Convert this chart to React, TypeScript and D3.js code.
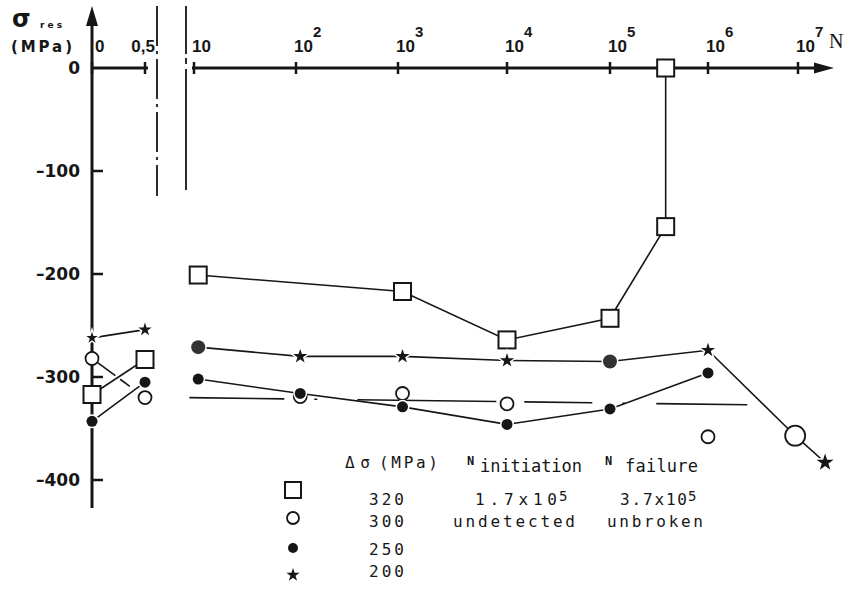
import React from "react";
import * as d3 from "d3";

// axis ticks
const linTicks = [0, 0.5];
const linTickLabels = ["0", "0,5"];
const logExps = [1, 2, 3, 4, 5, 6, 7];
const yTicks = [0, -100, -200, -300, -400];

// Δσ = 320 MPa (open squares)
const sq320Early = [[0, -317], [0.5, -283]];
const sq320 = [[11, -201], [1100, -217], [1e4, -264], [1e5, -243], [3.7e5, -154], [3.7e5, 0]];

// Δσ = 300 MPa (open circles)
const ci300Early = [[0, -282], [0.5, -320]];
const ci300 = [[110, -319], [1100, -316], [1e4, -326], [1e6, -358]];
const ci300Trend = [[9, -320], [2.8e6, -327]];

// Δσ = 250 MPa (filled circles)
const dot250Early = [[0, -343], [0.5, -305]];
const dot250 = [[11, -302], [110, -316], [1100, -329], [1e4, -346], [1e5, -331], [1e6, -296]];

// Δσ = 200 MPa (stars)
const star200Early = [[0, -262], [0.5, -254]];
const star200 = [[11, -271], [110, -280], [1100, -280], [1e4, -284], [1e5, -285], [1e6, -274], [9.3e6, -357], [2e7, -383]];
const star200Marks = ["ball", "star", "star", "star", "ball", "star", "ring", "bigstar"];

const legendRows = [
  { ds: "320", init: "1.7x10", initExp: "5", fail: "3.7x10", failExp: "5", mark: "square" },
  { ds: "300", init: "undetected", initExp: "", fail: "unbroken", failExp: "", mark: "circle" },
  { ds: "250", init: "", initExp: "", fail: "", failExp: "", mark: "dot" },
  { ds: "200", init: "", initExp: "", fail: "", failExp: "", mark: "star" },
];

const INK = "#161616";
const MONO = "'DejaVu Sans Mono', monospace";

const y = d3.scaleLinear().domain([0, -400]).range([68, 480]);
const xLin = d3.scaleLinear().domain([0, 0.5]).range([92, 145]);
// hand-drawn decades are not evenly spaced
const xLog = d3.scaleLinear().domain(logExps).range([194, 296, 398, 507, 610, 708, 798]);
const xN = (n: number) => xLog(Math.log10(n));

const lineLin = d3.line<number[]>().x((d) => xLin(d[0])).y((d) => y(d[1]));
const lineLog = d3.line<number[]>().x((d) => xN(d[0])).y((d) => y(d[1]));

const starPath = (r: number) => d3.symbol(d3.symbolStar, (r * r) / 0.8908130915)()!;

function Marker({ kind, cx, cy, r }: { kind: string; cx: number; cy: number; r?: number }) {
  if (kind === "square") {
    const h = r ?? 8.5;
    return <rect x={cx - h} y={cy - h} width={h * 2} height={h * 2} fill="#fff" stroke={INK} strokeWidth={2} />;
  }
  if (kind === "circle" || kind === "ring") {
    return <circle cx={cx} cy={cy} r={r ?? (kind === "ring" ? 10 : 6.5)} fill="#fff" stroke={INK} strokeWidth={1.8} />;
  }
  if (kind === "dot" || kind === "ball") {
    return (
      <circle cx={cx} cy={cy} r={r ?? (kind === "ball" ? 7 : 5.5)} fill={kind === "ball" ? "#333" : INK}
        stroke="#fff" strokeWidth={3} style={{ paintOrder: "stroke" }} />
    );
  }
  const rr = r ?? (kind === "bigstar" ? 9 : 7.5);
  return (
    <path d={starPath(rr)} transform={`translate(${cx},${cy})`} fill={INK}
      stroke="#fff" strokeWidth={3} style={{ paintOrder: "stroke" }} />
  );
}

export default function App() {
  const axisW = 3;
  const rowBase = [505, 527, 555, 577];
  const markDy = [-15, -9, -7, -2];
  return (
    <svg width={851} height={589} style={{ position: "absolute", left: 0, top: 0, background: "#fff" }}>
      {/* y axis */}
      <line x1={92} x2={92} y1={20} y2={508} stroke={INK} strokeWidth={axisW} />
      <path d="M92,6 L86,26 L98,26 Z" fill={INK} />
      {yTicks.slice(1).map((v) => (
        <line key={v} x1={91} x2={103} y1={y(v)} y2={y(v)} stroke={INK} strokeWidth={2.5} />
      ))}
      {yTicks.map((v) => (
        <text key={v} x={80} y={y(v) + 6} textAnchor="end" fontFamily="'DejaVu Sans', sans-serif"
          fontWeight="bold" fontSize={17} fill={INK}>
          {v === 0 ? "0" : `–${Math.abs(v)}`}
        </text>
      ))}

      {/* y label */}
      <text x={12} y={27} fontFamily="'DejaVu Sans', sans-serif" fontWeight="bold" fontSize={24} fill={INK}>σ</text>
      <text x={40} y={28} fontFamily="'DejaVu Sans', sans-serif" fontWeight="bold" fontSize={9}
        textLength={22} lengthAdjust="spacing" fill={INK}>res</text>
      <text x={11} y={52} fontFamily="'DejaVu Sans', sans-serif" fontWeight="bold" fontSize={15}
        textLength={61} lengthAdjust="spacing" fill={INK}>(MPa)</text>

      {/* x axis, linear part */}
      <line x1={92} x2={xLin(0.5) + 3} y1={y(0)} y2={y(0)} stroke={INK} strokeWidth={axisW} />
      {linTicks.map((t, i) => (
        <g key={t}>
          <line x1={xLin(t)} x2={xLin(t)} y1={y(0) - 6} y2={y(0) + 6} stroke={INK} strokeWidth={2.5} />
          <text x={i === 0 ? xLin(t) + 3 : xLin(t) + 10} y={52} textAnchor={i === 0 ? "start" : "end"}
            fontFamily="'Liberation Sans', sans-serif" fontWeight="bold" fontSize={17} fill={INK}>
            {linTickLabels[i]}
          </text>
        </g>
      ))}

      {/* axis break */}
      <line x1={157} x2={157} y1={6} y2={196} stroke={INK} strokeWidth={1.8} strokeDasharray="40 5 3 5" />
      <line x1={186} x2={186} y1={6} y2={190} stroke={INK} strokeWidth={1.8} strokeDasharray="48 4 6 5 200" />

      {/* x axis, log part */}
      <line x1={192} x2={820} y1={y(0)} y2={y(0)} stroke={INK} strokeWidth={axisW} />
      <path d={`M834,${y(0)} L814,${y(0) - 5.5} L814,${y(0) + 5.5} Z`} fill={INK} />
      {logExps.map((e) => (
        <g key={e}>
          <line x1={xLog(e)} x2={xLog(e)} y1={y(0) - 6} y2={y(0) + 6} stroke={INK} strokeWidth={2.5} />
          <text x={xLog(e) - 2} y={52} fontFamily="'Liberation Sans', sans-serif" fontWeight="bold"
            fontSize={17} fill={INK}>10</text>
          {e > 1 && (
            <text x={xLog(e) + 17} y={37} fontFamily="'Liberation Sans', sans-serif" fontWeight="bold"
              fontSize={15} fill={INK}>{e}</text>
          )}
        </g>
      ))}
      <text x={829} y={48} fontFamily="'Liberation Serif', serif" fontSize={20} fill={INK}>N</text>

      {/* series lines */}
      <g fill="none" stroke={INK} strokeWidth={1.6}>
        <path d={lineLin(sq320Early)!} />
        <path d={lineLog(sq320)!} />
        <path d={lineLin(dot250Early)!} />
        <path d={lineLog(dot250)!} />
        <path d={lineLin(star200Early)!} />
        <path d={lineLog(star200)!} />
        <path d={lineLin(ci300Early)!} strokeDasharray="0 7 22 6 12 40" />
        <path d={lineLog(ci300Trend)!} strokeDasharray="95 30 3 40 139 28 68 30 3 31 91" />
      </g>

      {/* markers */}
      {sq320Early.map((d, i) => <Marker key={"sqe" + i} kind="square" cx={xLin(d[0])} cy={y(d[1])} />)}
      {sq320.map((d, i) => <Marker key={"sq" + i} kind="square" cx={xN(d[0])} cy={y(d[1])} />)}
      {ci300Early.map((d, i) => <Marker key={"cie" + i} kind="circle" cx={xLin(d[0])} cy={y(d[1])} />)}
      {ci300.map((d, i) => <Marker key={"ci" + i} kind="circle" cx={xN(d[0])} cy={y(d[1])} />)}
      {dot250Early.map((d, i) => <Marker key={"dte" + i} kind="dot" cx={xLin(d[0])} cy={y(d[1])} />)}
      {dot250.map((d, i) => <Marker key={"dt" + i} kind="dot" cx={xN(d[0])} cy={y(d[1])} />)}
      {star200Early.map((d, i) => (
        <Marker key={"ste" + i} kind="star" cx={xLin(d[0])} cy={y(d[1])} r={i === 0 ? 6 : 7} />
      ))}
      {star200.map((d, i) => <Marker key={"st" + i} kind={star200Marks[i]} cx={xN(d[0])} cy={y(d[1])} />)}

      {/* legend / table */}
      <g fontFamily={MONO} fill={INK}>
        <text x={345} y={468} fontSize={16} textLength={25} lengthAdjust="spacing">Δσ</text>
        <text x={379} y={468} fontSize={16} textLength={59} lengthAdjust="spacing">(MPa)</text>
        <text x={467} y={465} fontSize={12} fontWeight="bold">N</text>
        <text x={480} y={472} fontSize={17} textLength={102} lengthAdjust="spacing">initiation</text>
        <text x={605} y={465} fontSize={12} fontWeight="bold">N</text>
        <text x={625} y={472} fontSize={17} textLength={73} lengthAdjust="spacing">failure</text>
        {legendRows.map((r, i) => {
          const base = rowBase[i];
          return (
            <g key={r.ds}>
              <Marker kind={r.mark} cx={293} cy={base + markDy[i]}
                r={r.mark === "square" ? 8 : r.mark === "circle" ? 6 : r.mark === "dot" ? 5 : 7} />
              <text x={369} y={base} fontSize={16} textLength={35} lengthAdjust="spacing">{r.ds}</text>
              {r.init && (
                <text x={r.initExp ? 475 : 453} y={base} fontSize={16}
                  textLength={r.initExp ? 82 : 122} lengthAdjust="spacing">{r.init}</text>
              )}
              {r.initExp && <text x={559} y={base - 4} fontSize={14}>{r.initExp}</text>}
              {r.fail && (
                <text x={r.failExp ? 620 : 607} y={base} fontSize={16}
                  textLength={r.failExp ? 67 : 96} lengthAdjust="spacing">{r.fail}</text>
              )}
              {r.failExp && <text x={688} y={base - 4} fontSize={14}>{r.failExp}</text>}
            </g>
          );
        })}
      </g>
    </svg>
  );
}
